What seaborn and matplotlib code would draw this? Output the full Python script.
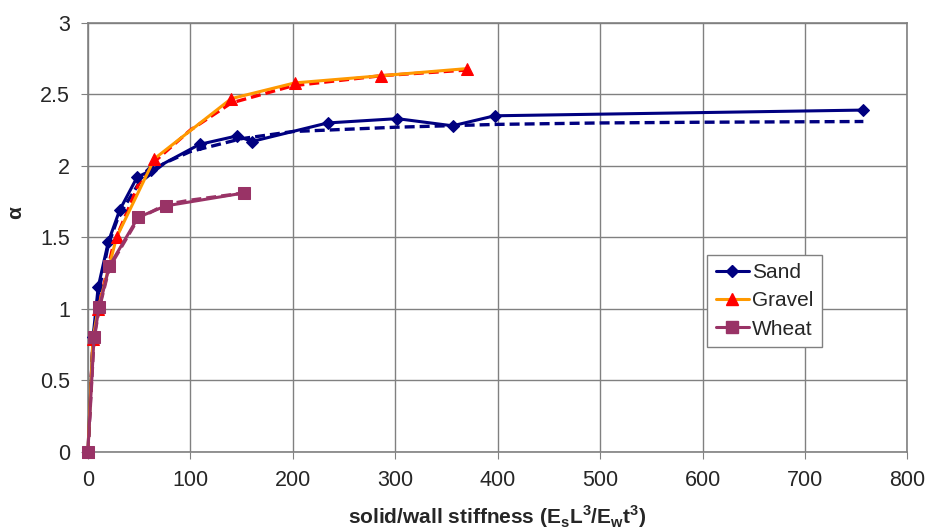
import pandas as pd
import seaborn as sns
import matplotlib.pyplot as plt
from matplotlib.lines import Line2D

# dados medidos (pontos)
sand_x = [0, 5, 10, 20, 31, 48, 62, 109, 146, 160, 234, 302, 356, 397, 757]
sand_y = [0, 0.80, 1.15, 1.47, 1.69, 1.92, 1.97, 2.15, 2.21, 2.17, 2.30, 2.33, 2.28, 2.35, 2.39]

gravel_x = [0, 5, 10, 28, 65, 140, 202, 286, 370]
gravel_y = [0, 0.79, 1.00, 1.50, 2.05, 2.47, 2.58, 2.63, 2.68]

wheat_x = [0, 6, 11, 21, 49, 76, 152]
wheat_y = [0, 0.80, 1.01, 1.30, 1.64, 1.72, 1.81]

# curvas ajustadas (tracejadas)
sand_fit_x = [0, 5, 10, 20, 30, 50, 75, 100, 150, 200, 300, 400, 500, 600, 757]
sand_fit_y = [0, 0.75, 1.10, 1.45, 1.65, 1.88, 2.02, 2.10, 2.19, 2.24, 2.27, 2.29, 2.30, 2.305, 2.31]

gravel_fit_x = [0, 5, 10, 25, 50, 65, 100, 140, 200, 286, 370]
gravel_fit_y = [0, 0.78, 1.00, 1.45, 1.88, 2.03, 2.25, 2.44, 2.56, 2.63, 2.67]

wheat_fit_x = [0, 6, 11, 21, 49, 76, 100, 152]
wheat_fit_y = [0, 0.79, 1.00, 1.29, 1.63, 1.73, 1.76, 1.81]

sns.set_style("white")
plt.rcParams['font.family'] = ['Liberation Sans', 'DejaVu Sans']
plt.rcParams['mathtext.fontset'] = 'custom'
plt.rcParams['mathtext.rm'] = 'Liberation Sans'
plt.rcParams['mathtext.bf'] = 'Liberation Sans:bold'

fig = plt.figure(figsize=(9.25, 5.31), dpi=100)
ax = fig.add_axes([0.095, 0.149, 0.886, 0.808])

navy = "#000080"
orange = "#FF9900"
red = "#FF0000"
purple = "#993366"

# linhas de ajuste
sns.lineplot(x=sand_fit_x, y=sand_fit_y, ax=ax, color=navy, lw=2.4,
             linestyle=(0, (3, 1.5)), sort=False)
sns.lineplot(x=gravel_fit_x, y=gravel_fit_y, ax=ax, color=red, lw=2.4,
             linestyle=(0, (3, 1.5)), sort=False)
sns.lineplot(x=wheat_fit_x, y=wheat_fit_y, ax=ax, color=purple, lw=2.4,
             linestyle=(0, (3, 1.5)), sort=False)

# dados
sns.lineplot(x=sand_x, y=sand_y, ax=ax, color=navy, lw=2.2, marker="D",
             markersize=6, markerfacecolor=navy, markeredgecolor=navy,
             sort=False, clip_on=False, zorder=5)
sns.lineplot(x=gravel_x, y=gravel_y, ax=ax, color=orange, lw=2.2, marker="^",
             markersize=8, markerfacecolor=red, markeredgecolor=red,
             sort=False, clip_on=False, zorder=5)
sns.lineplot(x=wheat_x, y=wheat_y, ax=ax, color=purple, lw=2.2, marker="s",
             markersize=8, markerfacecolor=purple, markeredgecolor=purple,
             sort=False, clip_on=False, zorder=5)

ax.set_xlim(0, 800)
ax.set_ylim(0, 3)
ax.set_xticks(range(0, 801, 100))
ax.set_yticks([0, 0.5, 1, 1.5, 2, 2.5, 3])
ax.set_yticklabels(["0", "0.5", "1", "1.5", "2", "2.5", "3"])
ax.set_axisbelow(True)
ax.grid(True, color="#808080", lw=1)
for s in ax.spines.values():
    s.set_color("#808080")
    s.set_linewidth(1.2)
ax.tick_params(axis="both", labelsize=15.5, length=5, color="#808080",
               direction="out", left=True, bottom=True, pad=8)

ax.set_xlabel("solid/wall stiffness (E$_\\mathbf{s}$L$^\\mathbf{3}$/E$_\\mathbf{w}$t$^\\mathbf{3}$)",
              fontsize=15, fontweight="bold")
ax.xaxis.label.set_va("center")
ax.xaxis.set_label_coords(0.5, -0.150)
ax.set_ylabel("α", fontsize=15, fontweight="bold", rotation=90)
ax.yaxis.label.set_va("center")
ax.yaxis.set_label_coords(-0.088, 0.557)

handles = [
    Line2D([], [], color=navy, lw=2.2, marker="D", markersize=6, label="Sand"),
    Line2D([], [], color=orange, lw=2.2, marker="^", markersize=8,
           markerfacecolor=red, markeredgecolor=red, label="Gravel"),
    Line2D([], [], color=purple, lw=2.2, marker="s", markersize=8, label="Wheat"),
]
leg = ax.legend(handles=handles, loc="upper left", bbox_to_anchor=(0.756, 0.46),
                fontsize=15, frameon=True, fancybox=False, framealpha=1,
                edgecolor="#808080", handlelength=1.6, handletextpad=0.15,
                labelspacing=0.45, borderpad=0.4, borderaxespad=0)

plt.savefig("out.png", dpi=100)
